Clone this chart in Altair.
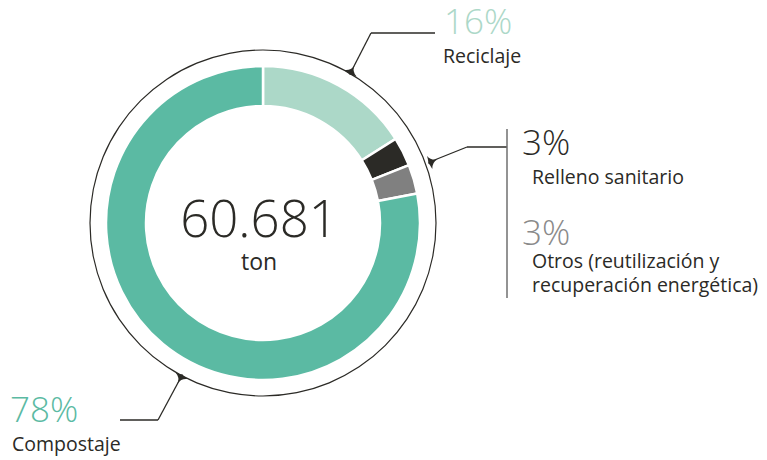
import altair as alt
import pandas as pd

# ---- data ----
categories = ["Reciclaje", "Relleno sanitario", "Otros", "Compostaje"]
label_texts = ["Reciclaje", "Relleno sanitario",
               "Otros (reutilización y\nrecuperación energética)", "Compostaje"]
percentages = [16, 3, 3, 78]
colors = ["#acd8c8", "#2b2a26", "#808080", "#5bbaa3"]
pct_text_colors = ["#acd8c8", "#2b2a26", "#8a8a8a", "#5bbaa3"]
total_label = "60.681"
unit_label = "ton"

# ---- layout (pixels, plot-area coordinates; page margin is 8px) ----
M = 8
W, H = 751, 449
CX, CY = 263 - M, 223 - M
DARK = "#2b2a26"
FONT = "Open Sans"

def P(x, y):
    return x - M, y - M

one = pd.DataFrame({"k": [0]})

df = pd.DataFrame({"cat": categories, "pct": percentages, "ord": list(range(len(categories)))})

donut = alt.Chart(df).mark_arc(innerRadius=117, outerRadius=157, stroke="white",
                                strokeWidth=2.5).encode(
    theta=alt.Theta("pct:Q", stack=True),
    order=alt.Order("ord:Q"),
    color=alt.Color("cat:N", scale=alt.Scale(domain=categories, range=colors), legend=None),
    x=alt.value(CX), y=alt.value(CY),
)

ring = alt.Chart(pd.DataFrame({"pct": [sum(percentages)]})).mark_arc(
    innerRadius=172.4, outerRadius=173.6, color=DARK).encode(
    theta=alt.Theta("pct:Q"), x=alt.value(CX), y=alt.value(CY))

layers = [ring, donut]

def seg(a, b, color=DARK, w=1.3):
    (x1, y1), (x2, y2) = P(*a), P(*b)
    return alt.Chart(one).mark_rule(color=color, strokeWidth=w).encode(
        x=alt.value(x1), y=alt.value(y1), x2=alt.value(x2), y2=alt.value(y2))

SPIKE = "M0,-1 Q0.12,-0.1 1,0.2 Q0.1,0.3 0,0.45 Q-0.1,0.3 -1,0.2 Q-0.12,-0.1 0,-1 Z"

def spike(x, y, ang):
    px, py = P(x, y)
    return alt.Chart(one).mark_point(shape=SPIKE, filled=True, color=DARK, opacity=1,
                                     size=200, angle=ang % 360).encode(
        x=alt.value(px), y=alt.value(py))

# leaders
layers += [
    seg((371, 33), (435, 33)), seg((371, 33), (352, 70)), spike(351, 72, 28),
    seg((467, 147), (507, 147)), seg((467, 147), (432, 161)), spike(431, 162, 68),
    seg((507, 129), (507, 298), color="#6f6f6f", w=1.5),
    seg((120, 420), (158, 420)), seg((158, 420), (180, 379)), spike(181, 377, 208),
]

def txt(s, x, y, size, color=DARK, weight=400, align="left", lh=None):
    px, py = P(x, y)
    kw = dict(align=align, baseline="alphabetic", font=FONT, fontSize=size,
              fontWeight=weight, color=color)
    if lh:
        kw.update(lineBreak="\n", lineHeight=lh)
    return alt.Chart(one).mark_text(**kw).encode(
        x=alt.value(px), y=alt.value(py), text=alt.value(s))

pct_pos = [(444, 34), (522, 155), (522, 245), (10, 422)]
lab_pos = [(443, 63), (532, 184), (532, 268), (12, 451)]
for i in range(len(categories)):
    layers.append(txt(f"{percentages[i]}%", *pct_pos[i], 35, pct_text_colors[i], 300))
    layers.append(txt(label_texts[i], *lab_pos[i], 19.5, DARK, 400, lh=24))

layers.append(txt(total_label, 259, 237, 51, DARK, 300, align="center"))
layers.append(txt(unit_label, 259, 270, 23, DARK, 400, align="center"))

chart = alt.layer(*layers).resolve_scale(theta="independent").properties(
    width=W, height=H, padding=0, autosize=alt.AutoSizeParams(type="none"),
    background="white",
).configure_view(stroke=None)

chart.save("out.html", embed_options={"renderer": "svg", "actions": False})
